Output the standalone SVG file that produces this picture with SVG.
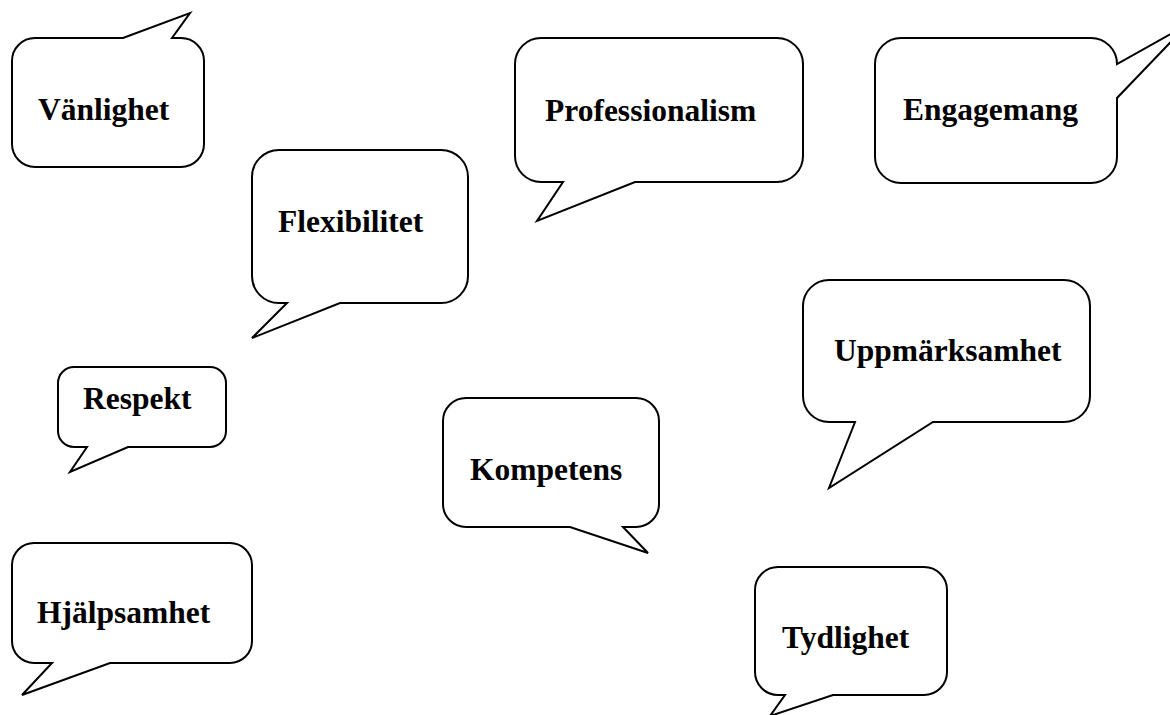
<svg xmlns="http://www.w3.org/2000/svg" width="1170" height="715" viewBox="0 0 1170 715">
<style>
.b{fill:#fff;stroke:#000;stroke-width:2;stroke-linejoin:miter}
.t{font-family:"Liberation Serif","Times New Roman",serif;font-weight:bold;font-size:31.5px;fill:#000}
</style>
<rect width="1170" height="715" fill="#fff"/>
<g id="vanlighet"><path class="b" d="M 35 38 L 123 38 L 190 13 L 172 38 L 181 38 A 23 23 0 0 1 204 61 L 204 144 A 23 23 0 0 1 181 167 L 35 167 A 23 23 0 0 1 12 144 L 12 61 A 23 23 0 0 1 35 38 Z"/><text class="t" x="38" y="120">Vänlighet</text></g>
<g id="professionalism"><path class="b" d="M 541 38 L 777 38 A 26 26 0 0 1 803 64 L 803 156 A 26 26 0 0 1 777 182 L 635 182 L 537 221 L 563 182 L 541 182 A 26 26 0 0 1 515 156 L 515 64 A 26 26 0 0 1 541 38 Z"/><text class="t" x="545" y="121">Professionalism</text></g>
<g id="engagemang"><path class="b" d="M 901 38 L 1091 38 A 26 26 0 0 1 1117 64 L 1187 25 L 1117 98 L 1117 157 A 26 26 0 0 1 1091 183 L 901 183 A 26 26 0 0 1 875 157 L 875 64 A 26 26 0 0 1 901 38 Z"/><text class="t" x="903" y="120">Engagemang</text></g>
<g id="flexibilitet"><path class="b" d="M 279 150 L 441 150 A 27 27 0 0 1 468 177 L 468 276 A 27 27 0 0 1 441 303 L 340 303 L 252 338 L 287 303 L 279 303 A 27 27 0 0 1 252 276 L 252 177 A 27 27 0 0 1 279 150 Z"/><text class="t" x="278" y="232">Flexibilitet</text></g>
<g id="respekt"><path class="b" d="M 74 367 L 210 367 A 16 16 0 0 1 226 383 L 226 431 A 16 16 0 0 1 210 447 L 128 447 L 70 472 L 87 447 L 74 447 A 16 16 0 0 1 58 431 L 58 383 A 16 16 0 0 1 74 367 Z"/><text class="t" x="83" y="409">Respekt</text></g>
<g id="hjalpsamhet"><path class="b" d="M 34 543 L 230 543 A 22 22 0 0 1 252 565 L 252 641 A 22 22 0 0 1 230 663 L 110 663 L 22 695 L 52 663 L 34 663 A 22 22 0 0 1 12 641 L 12 565 A 22 22 0 0 1 34 543 Z"/><text class="t" x="37" y="623">Hjälpsamhet</text></g>
<g id="kompetens"><path class="b" d="M 466 398 L 636 398 A 23 23 0 0 1 659 421 L 659 504 A 23 23 0 0 1 636 527 L 623 527 L 648 553 L 570 527 L 466 527 A 23 23 0 0 1 443 504 L 443 421 A 23 23 0 0 1 466 398 Z"/><text class="t" x="470" y="480">Kompetens</text></g>
<g id="uppmarksamhet"><path class="b" d="M 829 280 L 1064 280 A 26 26 0 0 1 1090 306 L 1090 396 A 26 26 0 0 1 1064 422 L 933 422 L 829 488 L 855 422 L 829 422 A 26 26 0 0 1 803 396 L 803 306 A 26 26 0 0 1 829 280 Z"/><text class="t" x="834" y="361">Uppmärksamhet</text></g>
<g id="tydlighet"><path class="b" d="M 778 567 L 924 567 A 23 23 0 0 1 947 590 L 947 672 A 23 23 0 0 1 924 695 L 833 695 L 770 716 L 785 695 L 778 695 A 23 23 0 0 1 755 672 L 755 590 A 23 23 0 0 1 778 567 Z"/><text class="t" x="782" y="648">Tydlighet</text></g>
<g id="connectors"/>
</svg>
